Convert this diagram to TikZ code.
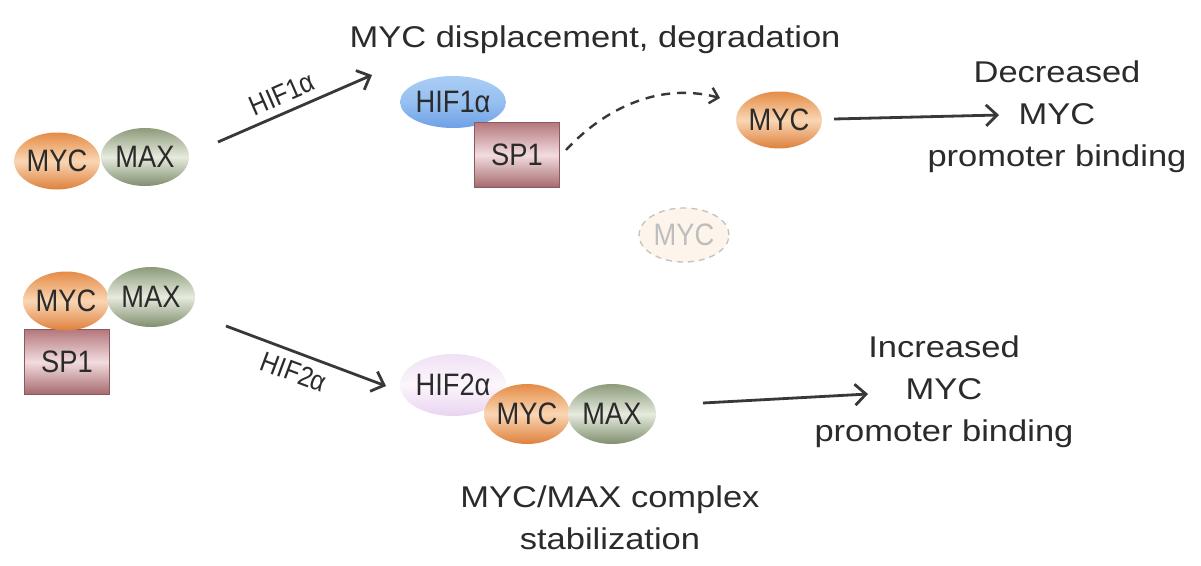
\documentclass[tikz,border=0pt]{standalone}
\usepackage{fontspec}
\setmainfont{Liberation Sans}
\newfontfamily\widefont[FakeStretch=1.15]{Liberation Sans}
\newfontfamily\narrowfont[FakeStretch=0.88]{Liberation Sans}
\usetikzlibrary{shapes.geometric,arrows.meta}
\definecolor{txt}{HTML}{2B2B2B}
\definecolor{arr}{HTML}{383838}
\tikzset{
  blob/.style={ellipse, inner sep=0pt, text=txt, font=\narrowfont\fontsize{31}{31}\selectfont},
  mycnode/.style={blob, minimum width=85pt, minimum height=57pt,
     top color={rgb,255:red,228;green,140;blue,70}, bottom color={rgb,255:red,222;green,128;blue,60},
     middle color={rgb,255:red,250;green,214;blue,180}},
  maxnode/.style={blob, minimum width=88pt, minimum height=58pt,
     top color={rgb,255:red,140;green,155;blue,122}, bottom color={rgb,255:red,128;green,142;blue,110},
     middle color={rgb,255:red,230;green,235;blue,222}},
  hifone/.style={blob, minimum width=97pt, minimum height=52pt,
     top color={rgb,255:red,170;green,205;blue,245}, bottom color={rgb,255:red,110;green,160;blue,230},
     middle color={rgb,255:red,150;green,192;blue,240}},
  hiftwo/.style={blob, minimum width=80pt, minimum height=62pt,
     top color={rgb,255:red,240;green,225;blue,245}, bottom color={rgb,255:red,232;green,212;blue,240},
     middle color={rgb,255:red,252;green,246;blue,252}},
  sponebox/.style={rectangle, inner sep=0pt, minimum width=85pt, minimum height=65pt,
     draw={rgb,255:red,140;green,90;blue,94}, line width=0.6pt, text=txt,
     font=\narrowfont\fontsize{31}{31}\selectfont,
     top color={rgb,255:red,180;green,120;blue,125}, bottom color={rgb,255:red,165;green,105;blue,110},
     middle color={rgb,255:red,242;green,220;blue,222}},
  ghost/.style={ellipse, inner sep=0pt, minimum width=90pt, minimum height=54pt,
     draw={rgb,255:red,200;green,192;blue,185}, dash pattern=on 6pt off 5pt, line width=1.3pt,
     fill={rgb,255:red,253;green,244;blue,235}, text={rgb,255:red,190;green,190;blue,190},
     font=\narrowfont\fontsize{31}{31}\selectfont},
  bigtext/.style={align=center, text=txt, font=\widefont\fontsize{30}{42}\selectfont},
  arrlabel/.style={text=txt, font=\narrowfont\fontsize{28}{28}\selectfont, inner sep=1pt},
  flow/.style={draw=arr, line width=2.8pt, -{Straight Barb[length=11pt,width=21pt,line width=2.8pt]}},
  dflow/.style={draw=arr, line width=2.4pt, dash pattern=on 9pt off 7pt,
     -{Straight Barb[length=8pt,width=16pt,line width=2.4pt]}},
}
\begin{document}
\begin{tikzpicture}[x=1pt,y=-1pt]
\useasboundingbox (0,0) rectangle (1201,565);
\fill[white] (0,0) rectangle (1201,565);

% ---- row 1 ----
\node[mycnode] (myc1) at (57,161) {MYC};
\node[maxnode] (max1) at (145,157) {MAX};

\coordinate (a1s) at (218,142);
\coordinate (a1e) at (372,75);
\draw[flow] (a1s) -- (a1e);
\node[arrlabel, rotate=23.5] (lab1) at (282,94) {HIF1α};

\node[bigtext] (head1) at (595,40) {MYC displacement, degradation};

\node[hifone] (hif1) at (453,102) {HIF1α};
\node[sponebox] (sp1a) at (517,155) {SP1};

\coordinate (d1s) at (566,150);
\coordinate (d1e) at (720,98);
\draw[dflow] (d1s) .. controls (605,108) and (660,82) .. (d1e);

\node[mycnode] (myc2) at (779,120) {MYC};
\coordinate (a2s) at (834,119);
\coordinate (a2e) at (999,115);
\draw[flow] (a2s) -- (a2e);
\node[bigtext] (dec) at (1057,117) {Decreased\\MYC\\promoter binding};

\node[ghost] (ghost) at (684,235) {MYC};

% ---- row 2 ----
\node[sponebox] (sp1b) at (67,362) {SP1};
\node[mycnode, minimum height=59pt] (myc3) at (66,301) {MYC};
\node[maxnode, minimum height=60pt] (max3) at (151,297) {MAX};

\coordinate (a3s) at (226,326);
\coordinate (a3e) at (386,386);
\draw[flow] (a3s) -- (a3e);
\node[arrlabel, rotate=-20.5] (lab2) at (294,372) {HIF2α};

\node[hiftwo] (hif2) at (453,385) {HIF2α};
\node[mycnode, minimum height=60pt] (myc4) at (527,414) {MYC};
\node[maxnode, minimum height=60pt] (max4) at (612,414) {MAX};

\coordinate (a4s) at (703,403);
\coordinate (a4e) at (868,394);
\draw[flow] (a4s) -- (a4e);
\node[bigtext] (inc) at (944,392) {Increased\\MYC\\promoter binding};

\node[bigtext] (stab) at (610,518) {MYC/MAX complex\\stabilization};
\end{tikzpicture}
\end{document}
